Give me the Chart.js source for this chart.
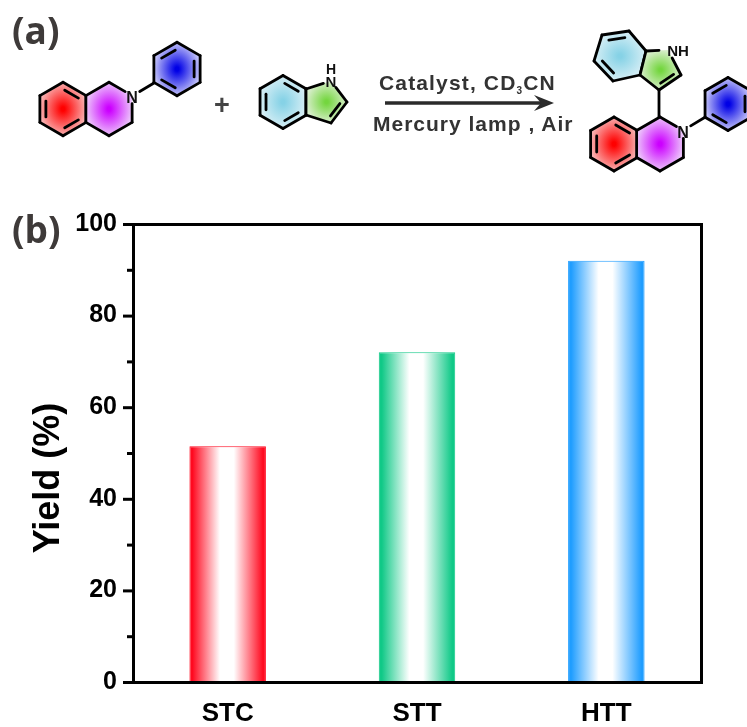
<!DOCTYPE html>
<html>
<head>
<meta charset="utf-8">
<title>Yield</title>
<script src="https://cdn.jsdelivr.net/npm/chart.js@4"></script>
<style>
  html, body { margin: 0; padding: 0; background: #fff; overflow: hidden; }
  #wrap { position: relative; width: 747px; height: 727px; }
  #yieldChart { position: absolute; left: 0; top: 0; }
  #scheme { position: absolute; left: 0; top: 0; }
  #scheme text { font-family: "Liberation Sans", Arial, sans-serif; }
</style>
</head>
<body>
<div id="wrap">
  <canvas id="yieldChart" width="747" height="727"></canvas>
  <svg id="scheme" width="747" height="727" viewBox="0 0 747 727"></svg>
</div>
<script>
// values
const catalysts = ['STC', 'STT', 'HTT'];
const yields = [51.5, 72, 92];
const barColors = ['#ff0a20', '#10c987', '#1f9dff'];
const yMax = 100;
const yStep = 10;

const BAR_PCT = 0.404;

function barGradient(c){
  const color = barColors[c.dataIndex];
  if(c.dataIndex === undefined || !c.chart.chartArea) return color || '#ccc';
  const xs = c.chart.scales.x;
  const mid = xs.getPixelForValue(c.dataIndex);
  const half = xs.width / catalysts.length * BAR_PCT / 2;
  const g = c.chart.ctx.createLinearGradient(mid - half, 0, mid + half, 0);
  g.addColorStop(0, color);
  g.addColorStop(0.04, color);
  g.addColorStop(0.4, '#ffffff');
  g.addColorStop(0.58, '#ffffff');
  g.addColorStop(0.96, color);
  g.addColorStop(1, color);
  return g;
}

// frame and the long/short ticks of the y axis
const framePlugin = {
  id: 'frame',
  afterDraw(chart){
    const { ctx, chartArea: a, scales: { y } } = chart;
    ctx.save();
    ctx.strokeStyle = '#000';
    ctx.lineWidth = 3;
    ctx.strokeRect(a.left + 0.5, a.top + 0.5, a.right - a.left, a.bottom - a.top);
    y.ticks.forEach(t => {
      const py = y.getPixelForValue(t.value) + 0.5;
      const len = t.value % 20 === 0 ? 10 : 6;
      ctx.beginPath();
      ctx.moveTo(a.left, py);
      ctx.lineTo(a.left - len, py);
      ctx.stroke();
    });
    ctx.restore();
  }
};

new Chart(document.getElementById('yieldChart'), {
  type: 'bar',
  data: {
    labels: catalysts,
    datasets: [{
      data: yields,
      backgroundColor: barGradient,
      borderColor: barColors,
      borderWidth: 1,
      barPercentage: BAR_PCT,
      categoryPercentage: 1
    }]
  },
  options: {
    responsive: false,
    animation: false,
    layout: { padding: { top: 224, right: 46, left: 0, bottom: 0 } },
    plugins: { legend: { display: false }, tooltip: { enabled: false } },
    scales: {
      x: {
        grid: { display: false, drawTicks: false },
        border: { display: false },
        ticks: { color: '#000', padding: 16, maxRotation: 0, font: { family: '"Liberation Sans", Arial, sans-serif', size: 26, weight: 'bold' } },
        afterFit(s){ s.height = 45; }
      },
      y: {
        min: 0,
        max: yMax,
        grid: { display: false, drawTicks: false },
        border: { display: false },
        ticks: {
          stepSize: yStep,
          color: '#000',
          padding: 16,
          font: { family: '"Liberation Sans", Arial, sans-serif', size: 25, weight: 'bold' },
          callback: v => (v % 20 === 0 ? v : '')
        },
        afterFit(s){ s.width = 133; }
      }
    }
  },
  plugins: [framePlugin]
});

/* --- reaction scheme above the chart, plain svg --- */
const svg = document.getElementById('scheme');
const NS = 'http://www.w3.org/2000/svg';
function el(name, attrs, text){
  const e = document.createElementNS(NS, name);
  Object.keys(attrs).forEach(k => e.setAttribute(k, attrs[k]));
  if(text !== undefined) e.textContent = text;
  svg.appendChild(e);
  return e;
}

const defs = el('defs', {});
function glow(id, inner, outer){
  const g = document.createElementNS(NS, 'radialGradient');
  g.setAttribute('id', id);
  [[0.08, inner], [1, outer]].forEach(s => {
    const st = document.createElementNS(NS, 'stop');
    st.setAttribute('offset', s[0]);
    st.setAttribute('stop-color', s[1]);
    g.appendChild(st);
  });
  defs.appendChild(g);
}
glow('gRed', '#ff0000', '#f9b0b0');
glow('gPurple', '#cc00ff', '#ecc4fb');
glow('gBlue', '#0000e6', '#c2c2f8');
glow('gCyan', '#86d2e6', '#d6eef5');
glow('gGreen', '#74d63f', '#d8eecb');

function hex(cx, cy, r){
  const pts = [];
  for(let i = 0; i < 6; i++){
    const t = (-90 + 60 * i) * Math.PI / 180;
    pts.push([cx + r * Math.cos(t), cy + r * Math.sin(t)]);
  }
  return pts;
}
function bond(a, b, trimA, trimB){
  const dx = b[0] - a[0], dy = b[1] - a[1], d = Math.hypot(dx, dy);
  const ta = (trimA || 0) / d, tb = (trimB || 0) / d;
  el('line', { x1: a[0] + dx * ta, y1: a[1] + dy * ta, x2: b[0] - dx * tb, y2: b[1] - dy * tb,
    stroke: '#000', 'stroke-width': 2.8, 'stroke-linecap': 'round' });
}
// skip: edges left out, trims: vertex index -> gap for a hetero atom label
function ring(pts, fill, doubles, skip, trims){
  const n = pts.length;
  const cx = pts.reduce((s, p) => s + p[0], 0) / n;
  const cy = pts.reduce((s, p) => s + p[1], 0) / n;
  el('polygon', { points: pts.map(p => p.join(',')).join(' '), fill: 'url(#' + fill + ')' });
  pts.forEach((p, i) => {
    if((skip || []).includes(i)) return;
    const j = (i + 1) % n;
    bond(p, pts[j], (trims || {})[i], (trims || {})[j]);
  });
  (doubles || []).forEach(i => {
    const a = pts[i], b = pts[(i + 1) % n];
    const pa = [cx + (a[0] - cx) * 0.74, cy + (a[1] - cy) * 0.74];
    const pb = [cx + (b[0] - cx) * 0.74, cy + (b[1] - cy) * 0.74];
    bond(pa, pb, 2, 2);
  });
}
function atom(x, y, t, size){
  el('text', { x: x, y: y, 'font-size': size || 15, 'font-weight': 'bold', 'text-anchor': 'middle', fill: '#111' }, t);
}

// tetrahydroisoquinoline + phenyl, left
ring(hex(63, 109, 26.7), 'gRed', [0, 2, 4]);
ring(hex(109, 109, 26.7), 'gPurple', [], [], { 1: 8 });
ring(hex(177, 69, 26.7), 'gBlue', [1, 3, 5]);
bond([132, 96], [154, 83], 9, 0);
atom(132, 102.5, 'N', 16);

// indole, middle
ring(hex(283, 102, 26.5), 'gCyan', [0, 2, 4]);
ring([[306, 89], [331, 81], [347, 102], [331, 123], [306, 115]], 'gGreen', [2], [], { 1: 8 });
atom(331, 87, 'N', 15);
atom(331, 74, 'H', 14);

el('text', { x: 222, y: 114, 'font-size': 27, 'font-weight': 'bold', 'text-anchor': 'middle', fill: '#444' }, '+');

// arrow and conditions
el('line', { x1: 385, y1: 103, x2: 546, y2: 103, stroke: '#2b2b2b', 'stroke-width': 3.6 });
el('polygon', { points: '534,95 554,103 534,111 541,103', fill: '#2b2b2b' });
const cond = el('text', { x: 379, y: 90, 'font-size': 21, 'font-weight': 'bold', fill: '#333', 'letter-spacing': '1.15' });
cond.innerHTML = 'Catalyst, CD<tspan dy="4" font-size="10">3</tspan><tspan dy="-4">CN</tspan>';
el('text', { x: 373, y: 131, 'font-size': 21, 'font-weight': 'bold', fill: '#333', 'letter-spacing': '1' }, 'Mercury lamp , Air');

// product, right
const topBenz = [[602, 35], [629, 31], [646, 51], [640, 75], [613, 81], [594, 61]];
ring(topBenz, 'gCyan', [0, 4]);
ring([[646, 51], [668, 50], [681, 75], [659, 90], [640, 75]], 'gGreen', [2], [], { 1: 9 });
atom(678, 56, 'NH', 15);
bond([659, 90], [659, 117]);
ring(hex(614, 144, 27), 'gRed', [0, 2, 4]);
ring(hex(660, 144, 27), 'gPurple', [], [], { 1: 8 });
ring(hex(728, 104, 26.5), 'gBlue', [1, 3, 5]);
bond([683, 130.5], [705, 117.2], 9, 0);
atom(683, 137.5, 'N', 16);

// panel letters
el('text', { x: 12, y: 44, 'font-size': 37, 'font-weight': 'bold', fill: '#3e3a39', style: 'font-family:"Open Sans",sans-serif' }, '(a)');
el('text', { x: 12, y: 243, 'font-size': 37, 'font-weight': 'bold', fill: '#3e3a39', style: 'font-family:"Open Sans",sans-serif' }, '(b)');

// y axis title sits below the axis middle in the original, so placed by hand
el('text', { x: 0, y: 0, transform: 'translate(59,478) rotate(-90)', 'font-size': 36, 'font-weight': 'bold', 'text-anchor': 'middle', fill: '#000' }, 'Yield (%)');
</script>
</body>
</html>
